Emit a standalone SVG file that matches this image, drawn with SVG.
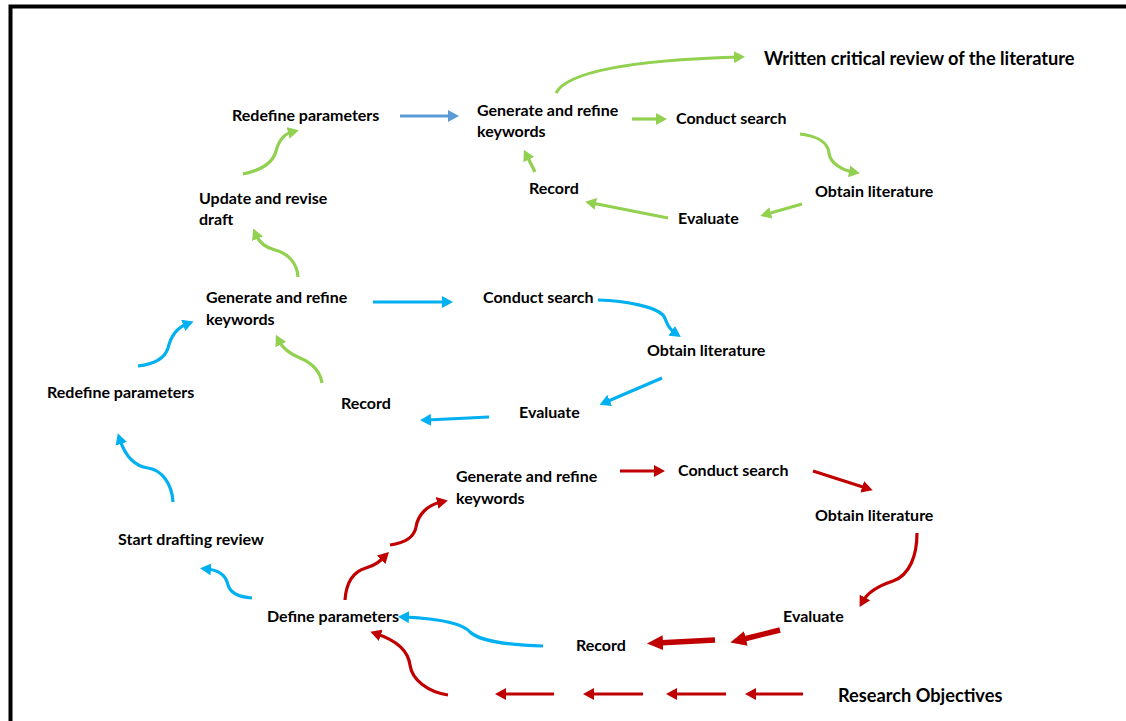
<svg xmlns="http://www.w3.org/2000/svg" width="1126" height="721" viewBox="0 0 1126 721">
  <defs>
    <style>
      .t { font-family: Lato, "Open Sans", "Liberation Sans", sans-serif; font-weight: bold; font-size: 16px; fill: #000; }
      .big { font-size: 18.2px; }
      .c { fill: none; stroke-width: 3.2; stroke-linecap: butt; }
      .g { stroke: #92D050; }
      .cy { stroke: #00B0F0; }
      .bl { stroke: #5B9BD5; }
      .r { stroke: #C00000; }
      .rt { stroke: #C00000; stroke-width: 5.5; }
    </style>
    <marker id="ah-g" markerUnits="userSpaceOnUse" viewBox="0 0 11 12" markerWidth="11" markerHeight="12" refX="4" refY="6" orient="auto">
      <path d="M0,0 L11,6 L0,12 z" fill="#92D050"/>
    </marker>
    <marker id="ah-cy" markerUnits="userSpaceOnUse" viewBox="0 0 11 12" markerWidth="11" markerHeight="12" refX="4" refY="6" orient="auto">
      <path d="M0,0 L11,6 L0,12 z" fill="#00B0F0"/>
    </marker>
    <marker id="ah-bl" markerUnits="userSpaceOnUse" viewBox="0 0 11 12" markerWidth="11" markerHeight="12" refX="4" refY="6" orient="auto">
      <path d="M0,0 L11,6 L0,12 z" fill="#5B9BD5"/>
    </marker>
    <marker id="ah-r" markerUnits="userSpaceOnUse" viewBox="0 0 11 12" markerWidth="11" markerHeight="12" refX="4" refY="6" orient="auto">
      <path d="M0,0 L11,6 L0,12 z" fill="#C00000"/>
    </marker>
    <marker id="ah-rt" markerUnits="userSpaceOnUse" viewBox="0 0 16 15" markerWidth="16" markerHeight="15" refX="6" refY="7.5" orient="auto">
      <path d="M0,0 L16,7.5 L0,15 z" fill="#C00000"/>
    </marker>
  </defs>

  <rect width="1126" height="721" fill="#fff"/>
  <!-- frame (top and left edges) -->
  <path d="M10.5,721 V6.5 H1126" fill="none" stroke="#000" stroke-width="4"/>

  <!-- nodes -->
  <g id="written-review"><text class="t big" x="764" y="65">Written critical review of the literature</text></g>
  <g id="redefine-params-top"><text class="t" x="232" y="121">Redefine parameters</text></g>
  <g id="generate-keywords-top"><text class="t" x="477" y="116">Generate and refine</text><text class="t" x="477" y="137">keywords</text></g>
  <g id="conduct-search-top"><text class="t" x="676" y="124">Conduct search</text></g>
  <g id="obtain-lit-top"><text class="t" x="815" y="197">Obtain literature</text></g>
  <g id="evaluate-top"><text class="t" x="678" y="224">Evaluate</text></g>
  <g id="record-top"><text class="t" x="529" y="194">Record</text></g>
  <g id="update-draft"><text class="t" x="199" y="204">Update and revise</text><text class="t" x="199" y="225">draft</text></g>

  <g id="generate-keywords-mid"><text class="t" x="206" y="303">Generate and refine</text><text class="t" x="206" y="325">keywords</text></g>
  <g id="conduct-search-mid"><text class="t" x="483" y="303">Conduct search</text></g>
  <g id="obtain-lit-mid"><text class="t" x="647" y="356">Obtain literature</text></g>
  <g id="evaluate-mid"><text class="t" x="519" y="418">Evaluate</text></g>
  <g id="record-mid"><text class="t" x="341" y="409">Record</text></g>
  <g id="redefine-params-left"><text class="t" x="47" y="398">Redefine parameters</text></g>

  <g id="generate-keywords-low"><text class="t" x="456" y="482">Generate and refine</text><text class="t" x="456" y="504">keywords</text></g>
  <g id="conduct-search-low"><text class="t" x="678" y="476">Conduct search</text></g>
  <g id="obtain-lit-low"><text class="t" x="815" y="521">Obtain literature</text></g>
  <g id="evaluate-low"><text class="t" x="783" y="622">Evaluate</text></g>
  <g id="record-low"><text class="t" x="576" y="651">Record</text></g>
  <g id="start-drafting"><text class="t" x="118" y="545">Start drafting review</text></g>
  <g id="define-params"><text class="t" x="267" y="622">Define parameters</text></g>
  <g id="research-objectives"><text class="t big" x="838" y="702">Research Objectives</text></g>

  <!-- connectors -->
  <g id="connectors">
    <!-- upper loop (green) -->
    <path class="c g" marker-end="url(#ah-g)" d="M556,93 C568,70 640,60 738,57"/>
    <path class="c g" marker-end="url(#ah-g)" d="M632,119 L660,119"/>
    <path class="c g" marker-end="url(#ah-g)" d="M800,134 C818,136 828,143 829,153 C830,163 842,170 853,172"/>
    <path class="c g" marker-end="url(#ah-g)" d="M802,204 L767,214"/>
    <path class="c g" marker-end="url(#ah-g)" d="M668,218 L592,203"/>
    <path class="c g" marker-end="url(#ah-g)" d="M535,172 L527,156"/>
    <path class="c g" marker-end="url(#ah-g)" d="M243,174 C262,170 273,163 276,151 C279,140 284,134 292,132"/>
    <path class="c g" marker-end="url(#ah-g)" d="M298,277 C297,262 287,253 275,250 C264,247 259,242 256,235"/>
    <path class="c g" marker-end="url(#ah-g)" d="M322,383 C320,370 312,363 300,358 C288,353 282,347 279,341"/>
    <path class="c bl" marker-end="url(#ah-bl)" d="M400,116 L452,116"/>

    <!-- middle loop (blue) -->
    <path class="c cy" marker-end="url(#ah-cy)" d="M373,302 L446,302"/>
    <path class="c cy" marker-end="url(#ah-cy)" d="M598,300 C628,301 655,307 663,315 C667,320 666,327 675,333"/>
    <path class="c cy" marker-end="url(#ah-cy)" d="M662,378 L606,402"/>
    <path class="c cy" marker-end="url(#ah-cy)" d="M489,417 L427,420"/>
    <path class="c cy" marker-end="url(#ah-cy)" d="M138,366 C155,364 165,358 168,348 C171,336 176,328 187,324"/>
    <path class="c cy" marker-end="url(#ah-cy)" d="M173,502 C172,484 162,470 148,468 C134,466 125,455 120,440"/>
    <path class="c cy" marker-end="url(#ah-cy)" d="M252,598 C238,597 230,592 228,585 C226,575 218,570 207,569"/>
    <path class="c cy" marker-end="url(#ah-cy)" d="M543,646 C505,645 478,640 470,632 C465,626 448,619 405,617"/>

    <!-- lower loop (red) -->
    <path class="c r" marker-end="url(#ah-r)" d="M345,600 C346,585 352,572 366,568 C376,565 380,561 384,557"/>
    <path class="c r" marker-end="url(#ah-r)" d="M390,545 C405,543 414,538 416,527 C418,514 428,505 441,502"/>
    <path class="c r" marker-end="url(#ah-r)" d="M620,471 L658,471"/>
    <path class="c r" marker-end="url(#ah-r)" d="M813,471 L866,488"/>
    <path class="c r" marker-end="url(#ah-r)" d="M917,533 C917,555 910,575 893,581 C878,586 868,592 863,601"/>
    <path class="c rt" marker-end="url(#ah-rt)" d="M780,630 L740,640"/>
    <path class="c rt" marker-end="url(#ah-rt)" d="M715,640 L657,643"/>
    <path class="c r" marker-end="url(#ah-r)" d="M803,694 L752,694"/>
    <path class="c r" marker-end="url(#ah-r)" d="M726,694 L673,694"/>
    <path class="c r" marker-end="url(#ah-r)" d="M643,694 L590,694"/>
    <path class="c r" marker-end="url(#ah-r)" d="M554,694 L502,694"/>
    <path class="c r" marker-end="url(#ah-r)" d="M448,695 C428,692 412,680 410,665 C408,650 395,640 377,634"/>
  </g>
</svg>
